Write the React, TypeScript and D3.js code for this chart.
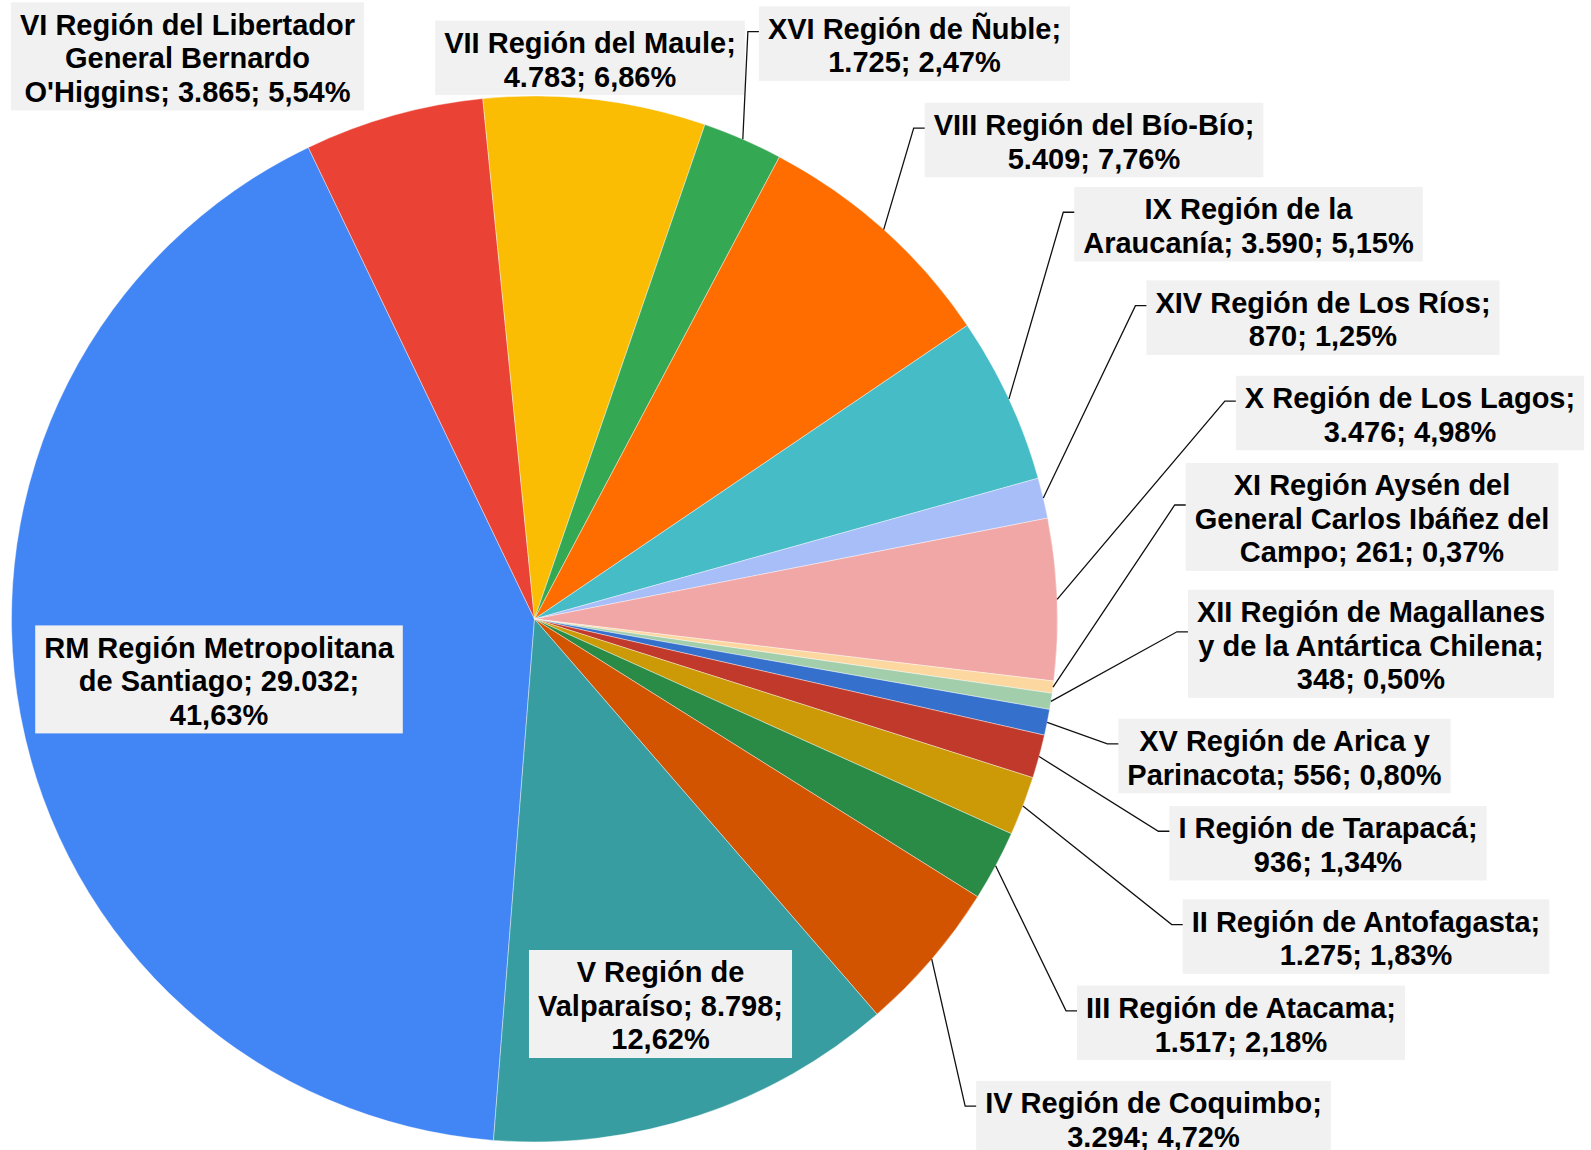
import React, { useEffect, useRef } from 'react';
import * as d3 from 'd3';

// data, in the order the slices run clockwise
const regions = [
  'RM Región Metropolitana de Santiago',
  "VI Región del Libertador General Bernardo O'Higgins",
  'VII Región del Maule',
  'XVI Región de Ñuble',
  'VIII Región del Bío-Bío',
  'IX Región de la Araucanía',
  'XIV Región de Los Ríos',
  'X Región de Los Lagos',
  'XI Región Aysén del General Carlos Ibáñez del Campo',
  'XII Región de Magallanes y de la Antártica Chilena',
  'XV Región de Arica y Parinacota',
  'I Región de Tarapacá',
  'II Región de Antofagasta',
  'III Región de Atacama',
  'IV Región de Coquimbo',
  'V Región de Valparaíso',
];
const values = [29032, 3865, 4783, 1725, 5409, 3590, 870, 3476, 261, 348, 556, 936, 1275, 1517, 3294, 8798];
const colors = [
  '#4285F4', '#EA4335', '#FBBC04', '#34A853', '#FF6D01', '#46BDC6',
  '#A8BEF8', '#F1A7A6', '#FCD8A0', '#A3CEAC', '#3570CC', '#C0392B',
  '#CC9A06', '#2A8B46', '#D35400', '#389DA1',
];

// label layout: box centre x, first text line y, wrap width, leader line
const labelX = [219, 187.5, 590, 914.5, 1094, 1248.5, 1323, 1410, 1372, 1371, 1284.5, 1328, 1366, 1241, 1153.5, 660.5];
const labelY = [647.4, 24.4, 42.6, 28.4, 124.8, 209, 302.4, 397.8, 485, 611.8, 740.7, 828, 921.3, 1007.6, 1102.9, 972];
const wrapW = [362, 345, 305, 305, 332, 348, 348, 342, 365, 356, 322, 312, 362, 322, 348, 258];
const leader = [false, false, false, true, true, true, true, true, true, true, true, true, true, true, true, false];

const locale = d3.formatLocale({ decimal: ',', thousands: '.', grouping: [3], currency: ['', ''] });
const fmtVal = locale.format(',d');
const fmtPct = locale.format('.2f');

const App = () => {
  const svgRef = useRef(null);

  useEffect(() => {
    const width = 1591;
    const height = 1150;
    const cx = 534.5;
    const cy = 619;
    const r = 523;
    const startAngle = (-175.5 * Math.PI) / 180;
    const lineH = 33.5;
    const font = "bold 29px 'Liberation Sans', Arial, sans-serif";

    const svg = d3.select(svgRef.current);
    svg.selectAll('*').remove();
    svg.attr('width', width).attr('height', height);

    const total = d3.sum(values);
    const data = regions.map((name, i) => ({ name, value: values[i], i }));

    const pie = d3.pie().sort(null).value((d) => d.value)
      .startAngle(startAngle).endAngle(startAngle + 2 * Math.PI);
    const arcs = pie(data);
    const arc = d3.arc().innerRadius(0).outerRadius(r);

    const g = svg.append('g').attr('transform', `translate(${cx},${cy})`);
    g.selectAll('path')
      .data(arcs)
      .join('path')
      .attr('d', arc)
      .attr('fill', (d) => colors[d.data.i])
      .attr('stroke', '#fff')
      .attr('stroke-width', 0.4);

    // measuring helper
    const probe = svg.append('text').style('font', font);
    const measure = (s) => {
      probe.text(s);
      return probe.node().getComputedTextLength();
    };

    const wrap = (text, maxW) => {
      const words = text.split(' ');
      const lines = [];
      let cur = '';
      words.forEach((w) => {
        const t = cur ? cur + ' ' + w : w;
        if (cur && measure(t) > maxW) {
          lines.push(cur);
          cur = w;
        } else cur = t;
      });
      if (cur) lines.push(cur);
      return lines;
    };

    const labels = svg.append('g');
    const leaders = svg.append('g');

    arcs.forEach((a) => {
      const i = a.data.i;
      const txt = `${a.data.name}; ${fmtVal(a.data.value)}; ${fmtPct((a.data.value / total) * 100)}%`;
      const lines = wrap(txt, wrapW[i]);
      const maxW = d3.max(lines, (l) => measure(l));
      const first = labelY[i];
      const last = first + (lines.length - 1) * lineH;
      const top = first - 22;
      const bottom = last + 19;
      const left = labelX[i] - maxW / 2 - 9;
      const right = labelX[i] + maxW / 2 + 9;

      labels.append('rect')
        .attr('x', left)
        .attr('y', top)
        .attr('width', right - left)
        .attr('height', bottom - top)
        .attr('fill', '#F1F1F1');

      const t = labels.append('text')
        .attr('text-anchor', 'middle')
        .style('font', font)
        .attr('fill', '#000');
      lines.forEach((l, k) => {
        t.append('tspan')
          .attr('x', labelX[i])
          .attr('y', first + k * lineH)
          .attr('dy', '0.36em')
          .text(l);
      });

      if (leader[i]) {
        const mid = (a.startAngle + a.endAngle) / 2;
        const px = cx + r * Math.sin(mid);
        const py = cy - r * Math.cos(mid);
        const ey = (top + bottom) / 2 - 12;
        leaders.append('path')
          .attr('d', `M${px},${py}L${left - 11},${ey}L${left},${ey}`)
          .attr('fill', 'none')
          .attr('stroke', '#111')
          .attr('stroke-width', 1.3);
      }
    });

    probe.remove();
  }, []);

  return (
    <div style={{ position: 'absolute', left: 0, top: 0 }}>
      <svg ref={svgRef} style={{ display: 'block', background: '#fff' }}></svg>
    </div>
  );
};

export default App;
